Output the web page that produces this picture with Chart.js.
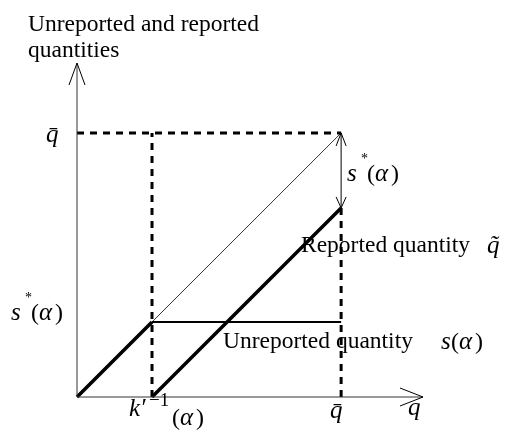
<!DOCTYPE html>
<html>
<head>
<meta charset="utf-8">
<script src="https://cdn.jsdelivr.net/npm/chart.js@4/dist/chart.umd.min.js"></script>
<style>
    body { margin: 0; background: #fff; }
    #wrap { width: 511px; height: 435px; position: relative; }
</style>
</head>
<body>
<div id="wrap"><canvas id="diagram"></canvas></div>
<script>
// values in diagram units (q bar = 10)
const qBar = 10;
const kInv = 2.84;      // k'^-1(alpha)
const sStar = 2.84;     // s*(alpha)
const axisEnd = [13.1, 12.65];

const diagonal = [[0, 0], [qBar, qBar]];
const belowKink = [[0, 0], [kInv, sStar]];
const reported = [[kInv, 0], [qBar, qBar - sStar]];
const unreported = [[kInv, sStar], [qBar, sStar]];
const guideTop = [[0, qBar], [qBar, qBar]];
const guideK = [[kInv, 0], [kInv, qBar]];
const guideQ = [[qBar, 0], [qBar, qBar - sStar]];
const axisXLine = [[0, 0], [axisEnd[0], 0]];
const axisYLine = [[0, 0], [0, axisEnd[1]]];

const yTickLabels = ["q\u0304", "s"];
const xTickLabels = ["k\u2032", "q\u0304", "q"];

const toPoints = arr => arr.map(p => ({ x: p[0], y: p[1] }));

function line(data, width, dash, color) {
    return {
        data: toPoints(data),
        showLine: true,
        borderColor: color || "#000",
        borderWidth: width,
        borderDash: dash || [],
        pointRadius: 0,
        clip: false
    };
}

const serif = "'Liberation Serif', 'Times New Roman', serif";

const annotations = {
    id: "annotations",
    afterDatasetsDraw(chart) {
        const ctx = chart.ctx;
        const xs = chart.scales.x;
        const ys = chart.scales.y;
        const px = v => xs.getPixelForValue(v);
        const py = v => ys.getPixelForValue(v);

        ctx.save();
        ctx.strokeStyle = "#000";
        ctx.lineWidth = 1;

        function arrowHead(x, y, dx, dy) {
            ctx.beginPath();
            ctx.moveTo(x + dx[0], y + dy[0]);
            ctx.lineTo(x, y);
            ctx.lineTo(x + dx[1], y + dy[1]);
            ctx.stroke();
        }

        // axis arrows
        arrowHead(px(0), py(axisEnd[1]), [-8, 8], [22, 22]);
        arrowHead(px(axisEnd[0]), py(0), [-23, -23], [-9, 9]);

        // double arrow showing s*(alpha)
        const ax = px(qBar);
        const top = py(qBar);
        const bot = py(qBar - sStar);
        ctx.beginPath();
        ctx.moveTo(ax, top);
        ctx.lineTo(ax, bot);
        ctx.stroke();
        arrowHead(ax, top, [-5, 5], [13, 13]);
        arrowHead(ax, bot, [-5, 5], [-11, -11]);

        ctx.fillStyle = "#000";
        ctx.textBaseline = "alphabetic";

        // axis title
        ctx.font = "23.5px " + serif;
        ctx.fillText("Unreported and reported", 28, 31);
        ctx.fillText("quantities", 28, 57);

        // curve labels
        ctx.fillText("Reported quantity", 301, 252);
        ctx.fillText("Unreported quantity", 223, 348);

        const it = "italic 25px " + serif;
        const up = "24px " + serif;

        function sAlpha(x, y) {
            ctx.font = it;
            ctx.fillText(yTickLabels[1], x, y);
            ctx.font = "14px " + serif;
            ctx.fillText("*", x + 14, y - 18);
            ctx.font = up;
            ctx.fillText("(", x + 20, y);
            ctx.font = it;
            ctx.fillText("\u03b1", x + 28, y);
            ctx.font = up;
            ctx.fillText(")", x + 44, y);
        }

        // y ticks
        ctx.font = it;
        ctx.fillText(yTickLabels[0], 46, py(qBar) + 9);
        sAlpha(11, py(sStar) - 2);

        // right side labels
        sAlpha(347, 181);
        ctx.font = it;
        ctx.fillText("q\u0303", 487, 253);
        ctx.fillText("s", 441, 349);
        ctx.font = up;
        ctx.fillText("(", 451, 349);
        ctx.font = it;
        ctx.fillText("\u03b1", 459, 349);
        ctx.font = up;
        ctx.fillText(")", 475, 349);

        // x ticks
        const base = py(0) + 21;
        ctx.font = it;
        ctx.fillText(xTickLabels[0], 129, base - 2);
        ctx.font = "19px " + serif;
        ctx.fillText("\u22121", 149, base - 12);
        ctx.font = up;
        ctx.fillText("(", 172, base + 7);
        ctx.font = it;
        ctx.fillText("\u03b1", 180, base + 7);
        ctx.font = up;
        ctx.fillText(")", 196, base + 7);

        ctx.font = it;
        ctx.fillText(xTickLabels[1], 330, base);
        ctx.fillText(xTickLabels[2], 408, base - 3);

        ctx.restore();
    }
};

new Chart(document.getElementById("diagram"), {
    type: "scatter",
    data: {
        datasets: [
            line(axisXLine, 1, [], "#333"),
            line(axisYLine, 1, [], "#333"),
            line(guideTop, 3, [7, 6]),
            line(guideK, 3, [7, 6]),
            line(guideQ, 3, [7, 6]),
            line(diagonal, 0.8),
            line(belowKink, 3.5),
            line(reported, 3.5),
            line(unreported, 2.2)
        ]
    },
    options: {
        responsive: true,
        maintainAspectRatio: false,
        animation: false,
        layout: { padding: { left: 77, right: 88, top: 63, bottom: 38 } },
        plugins: { legend: { display: false }, tooltip: { enabled: false } },
        scales: {
            x: { type: "linear", min: 0, max: axisEnd[0], display: false },
            y: { type: "linear", min: 0, max: axisEnd[1], display: false }
        }
    },
    plugins: [annotations]
});
</script>
</body>
</html>
